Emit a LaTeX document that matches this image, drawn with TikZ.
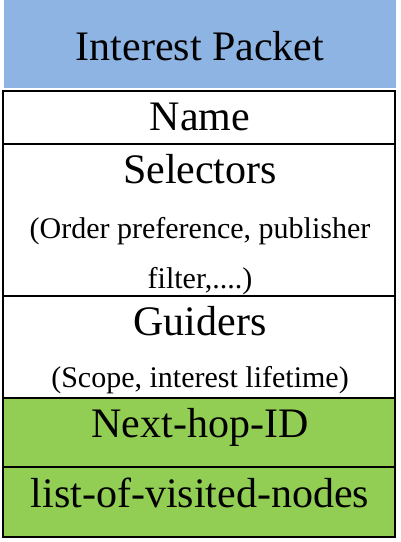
\documentclass[tikz,border=0pt]{standalone}
\usepackage{fontspec}
\setmainfont{Liberation Serif}
\definecolor{hdrblue}{RGB}{142,180,227}
\definecolor{fldgreen}{RGB}{146,205,84}
\tikzset{
  x=1pt,y=-1pt,
  frame/.style={draw=black,line width=1.6pt},
  big/.style={anchor=base,inner sep=0pt,font=\fontsize{42}{48}\selectfont},
  small/.style={anchor=base,inner sep=0pt,font=\fontsize{30}{36}\selectfont}
}
\begin{document}
\begin{tikzpicture}
\useasboundingbox (0,0) rectangle (400,542);
\fill[hdrblue] (4,0) rectangle (396,88);
\fill[fldgreen] (3,398) rectangle (395,537);
\draw[frame] (3,91) rectangle (395,537);
\draw[frame] (3,144) -- (395,144);
\draw[frame] (3,296) -- (395,296);
\draw[frame] (3,398) -- (395,398);
\draw[frame] (3,467) -- (395,467);
\node[big] (title) at (200,60) {Interest Packet};
\node[big] (name) at (200,130) {Name};
\node[big] (sel) at (200,183) {Selectors};
\node[small] (sel1) at (200,238) {(Order preference, publisher};
\node[small] (sel2) at (200,288) {filter,....)};
\node[big] (guid) at (200,335) {Guiders};
\node[small] (guid1) at (200,387) {(Scope, interest lifetime)};
\node[big] (next) at (200,437) {Next-hop-ID};
\node[big] (list) at (200,507) {list-of-visited-nodes};
\end{tikzpicture}
\end{document}
